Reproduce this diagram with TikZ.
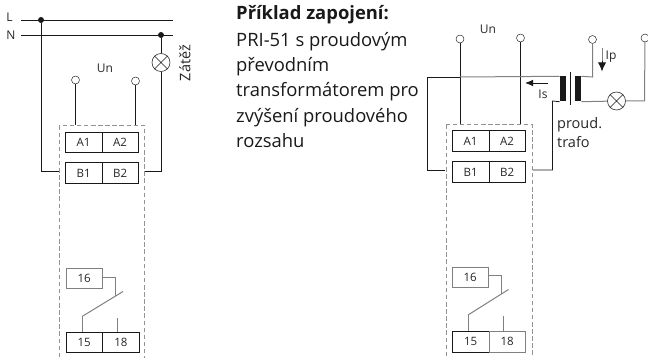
\documentclass[tikz,border=0pt]{standalone}
\usepackage{fontspec}
\setmainfont{Open Sans}
\usetikzlibrary{arrows.meta}
\definecolor{wire}{gray}{0.1}
\definecolor{lwire}{gray}{0.5}
\tikzset{
 x=1pt,y=-1pt,
 w/.style={draw=wire,line width=0.8pt},
 g/.style={draw=lwire,line width=1pt},
 dash box/.style={draw=gray!85,line width=0.8pt,dash pattern=on 4.5pt off 2.6pt},
 term/.style={draw=wire,fill=white,line width=0.65pt,minimum width=36.5pt,minimum height=20.5pt,inner sep=0pt,font=\fontsize{11.5}{13}\selectfont,text=black!85,anchor=north west},
 port/.style={circle,draw=wire,fill=white,line width=0.45pt,minimum size=8pt,inner sep=0pt},
 lamp/.style={circle,draw=wire,fill=white,line width=0.55pt,minimum size=18pt,inner sep=0pt},
 dotn/.style={circle,fill=wire,minimum size=6pt,inner sep=0pt},
 core/.style={fill=wire,draw=none,minimum width=6.5pt,minimum height=25pt,inner sep=0pt},
 lbl/.style={font=\fontsize{12}{14}\selectfont,text=black!85,inner sep=0pt},
 body/.style={font=\fontsize{18.4}{20}\selectfont,text=black!90,inner sep=0pt,anchor=base west},
}
\newcommand{\lampx}[1]{\draw[wire,line width=0.45pt] (#1.45)--(#1.225) (#1.135)--(#1.315);}
\begin{document}
\begin{tikzpicture}
\useasboundingbox (0,0) rectangle (648,358);
% LEFT
\coordinate (Lstart) at (21,20); \coordinate (Lend) at (173,20);
\coordinate (Nstart) at (21,35); \coordinate (Nend) at (173,35);
\draw[w] (Lstart)--(Lend); \draw[w] (Nstart)--(Nend);
\node[lbl] (tL) at (9.5,17) {L};
\node[lbl] (tN) at (11,35) {N};
\node[dotn] (dL) at (41,20) {};
\node[dotn] (dN) at (161,35) {};
\node[lamp] (lampL) at (161,62.5) {};
\lampx{lampL}
\node[lbl,rotate=90,font=\fontsize{14.5}{16}\selectfont] (zat) at (185,63) {Zátěž};
\node[lbl] (unL) at (105,68) {Un};
\node[port] (pa) at (75.5,80) {};
\node[port] (pb) at (135.5,81) {};
\draw[dash box] (59,125.5) rectangle (144.5,360);
\node[term] (a1) at (65,132) {A1};
\node[term] (a2) at (101.5,132) {A2};
\node[term] (b1) at (65,162.5) {B1};
\node[term] (b2) at (101.5,162.5) {B2};
\draw[w] (pa)--(75.5,125.5);
\draw[w] (pb)--(135.5,125.5);
\draw[w] (dL)--(41,171)--(59,171);
\draw[w] (dN)--(lampL);
\draw[w] (lampL)--(161,171)--(145,171);
\node[term,minimum height=19.5pt,draw=gray] (k16) at (65.5,268) {16};
\node[term] (k15) at (65.5,331.5) {15};
\node[term,minimum width=37pt] (k18) at (102,331.5) {18};
\coordinate (cA) at (82,316.5); \coordinate (cB) at (123,291.5);
\coordinate (cC) at (115.5,296); \coordinate (cD) at (117.5,318);
\draw[g] (k16.east |- 0,277.5)--(115.5,277.5)--(cC);
\draw[g] (cA)--(cB);
\draw[g] (cA)--(cA |- k15.north);
\draw[g] (cD)--(cD |- k18.north);
% TEXT
\node[body] (t0) at (236,20) {\textbf{Příklad zapojení:}};
\node[body] (t1) at (236,46.5) {PRI-51 s proudovým};
\node[body] (t2) at (236,71.7) {převodním};
\node[body] (t3) at (236,96.8) {transformátorem pro};
\node[body] (t4) at (236,122.3) {zvýšení proudového};
\node[body] (t5) at (236,148) {rozsahu};
% RIGHT
\node[lbl] (unR) at (488,29) {Un};
\node[port] (pc) at (460,39) {};
\node[port] (pd) at (520.5,38) {};
\node[port] (pe) at (592.5,39.5) {};
\node[port] (pf) at (645,38) {};
\draw[dash box] (446,124.5) rectangle (532,360);
\node[term] (a1r) at (452,130.5) {A1};
\node[term] (a2r) at (488.5,130.5) {A2};
\node[term] (b1r) at (452,161.5) {B1};
\node[term] (b2r) at (488.5,161.5) {B2};
\draw[w] (pc)--(460,124.5);
\draw[w] (pd)--(520.5,124.5);
\node[core] (c1) at (563,89) {};
\node[core] (c2) at (578,89) {};
\draw[wire,line width=0.5pt] (570.5,72)--(570.5,105);
\coordinate (ls) at (427,77);
\draw[g] (460,77)--(c1.north west);
\draw[w] (460,77)--(ls)--(427,170)--(445,170);
\draw[w] (c1.south west)--(552.5,101)--(552.5,170)--(532.5,170);
\draw[g] (c2.north east)--(592.5,77)--(pe);
\node[lamp] (lampR) at (616.5,101) {};
\lampx{lampR}
\draw[g] (c2.south east)--(lampR);
\draw[g] (lampR)--(644.5,101)--(pf);
\coordinate (isA) at (548,83); \coordinate (isB) at (525,83);
\draw[w,-{Latex[length=8pt,width=6.5pt]}] (isA)--(isB);
\coordinate (ipA) at (602,48); \coordinate (ipB) at (602,71.5);
\draw[lwire,line width=0.8pt] (ipA)--(602,64);
\draw[-{Latex[length=9pt,width=8pt]},w] (602,61)--(ipB);
\node[lbl] (is) at (543,94) {Is};
\node[lbl] (ip) at (611,57) {Ip};
\node[lbl,font=\fontsize{14.5}{16}\selectfont,anchor=base west] (pr) at (557,129) {proud.};
\node[lbl,font=\fontsize{14.5}{16}\selectfont,anchor=base west] (tr) at (557,148) {trafo};
\node[term,draw=gray] (k16r) at (451.5,266.5) {16};
\node[term] (k15r) at (452,331) {15};
\node[term,draw=gray] (k18r) at (488.5,331) {18};
\coordinate (dA) at (468,315); \coordinate (dB) at (508.5,289.5);
\coordinate (dC) at (501,294); \coordinate (dD) at (503,316);
\draw[g] (k16r.east |- 0,275.5)--(501,275.5)--(dC);
\draw[g] (dA)--(dB);
\draw[g] (dA)--(dA |- k15r.north);
\draw[g] (dD)--(dD |- k18r.north);
\end{tikzpicture}
\end{document}
